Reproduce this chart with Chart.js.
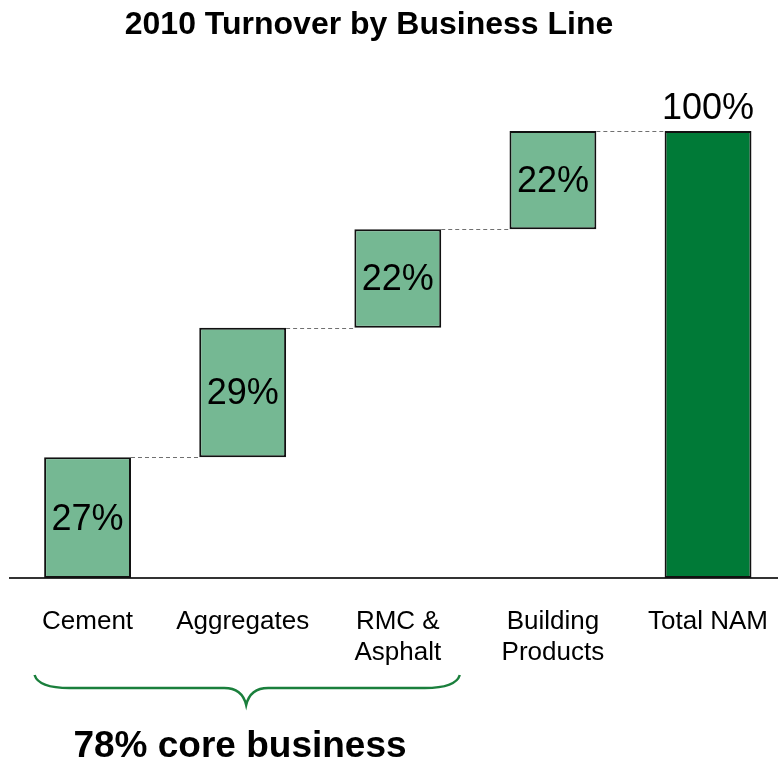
<!DOCTYPE html>
<html>
<head>
<meta charset="utf-8">
<script src="https://cdn.jsdelivr.net/npm/chart.js@4/dist/chart.umd.min.js"></script>
<style>
  html, body { margin: 0; padding: 0; background: #fff; overflow: hidden; }
  canvas { display: block; }
</style>
</head>
<body>
<canvas id="turnover" width="796" height="762"></canvas>
<script>
// 2010 turnover split, percent of total
const categories = ['Cement', 'Aggregates', ['RMC &', 'Asphalt'], ['Building', 'Products'], 'Total NAM'];
const shares = [27, 29, 22, 22];
const total = 100;
const coreShare = 78;

const FONT = '"Liberation Sans", Arial, sans-serif';
const lightGreen = '#75b893';
const darkGreen = '#007a37';

// waterfall: each step floats on the running sum, last bar is the total
const bars = [];
let running = 0;
shares.forEach(v => { bars.push([running, running + v]); running += v; });
bars.push([0, total]);
const labels = shares.concat([total]);

const extras = {
  id: 'extras',
  afterDatasetsDraw(chart) {
    const ctx = chart.ctx;
    const meta = chart.getDatasetMeta(0);
    const y = chart.scales.y;

    // dashed connectors between bar tops
    ctx.save();
    ctx.strokeStyle = '#707070';
    ctx.lineWidth = 1;
    ctx.setLineDash([4, 3]);
    for (let i = 0; i < meta.data.length - 1; i++) {
      const a = meta.data[i], b = meta.data[i + 1];
      const py = Math.round(y.getPixelForValue(bars[i][1])) + 0.5;
      ctx.beginPath();
      ctx.moveTo(a.x + a.width / 2, py);
      ctx.lineTo(b.x - b.width / 2, py);
      ctx.stroke();
    }
    ctx.restore();

    // value labels
    ctx.save();
    ctx.fillStyle = '#000';
    ctx.font = '36px ' + FONT;
    ctx.textAlign = 'center';
    meta.data.forEach((el, i) => {
      const top = y.getPixelForValue(bars[i][1]);
      const bot = y.getPixelForValue(bars[i][0]);
      if (i === meta.data.length - 1) {
        ctx.textBaseline = 'alphabetic';
        ctx.fillText(labels[i] + '%', el.x, top - 12);
      } else {
        ctx.textBaseline = 'middle';
        ctx.fillText(labels[i] + '%', el.x, (top + bot) / 2 + 2);
      }
    });
    ctx.restore();
  },
  afterDraw(chart) {
    const ctx = chart.ctx;
    ctx.save();
    // title
    ctx.fillStyle = '#000';
    ctx.font = 'bold 32px ' + FONT;
    ctx.textAlign = 'center';
    ctx.textBaseline = 'alphabetic';
    ctx.fillText('2010 Turnover by Business Line', 369, 34);

    // brace under the core business lines
    const meta = chart.getDatasetMeta(0);
    const x0 = meta.data[0].x - 53, x1 = meta.data[2].x + 62;
    const mid = (x0 + x1) / 2 - 1;
    const yt = 675, yh = 688, yp = 705;
    ctx.strokeStyle = '#1a7f3c';
    ctx.lineWidth = 2.5;
    ctx.beginPath();
    ctx.moveTo(x0, yt);
    ctx.quadraticCurveTo(x0 + 4, yh, x0 + 35, yh);
    ctx.lineTo(mid - 22, yh);
    ctx.quadraticCurveTo(mid - 4, yh, mid, yp);
    ctx.quadraticCurveTo(mid + 4, yh, mid + 22, yh);
    ctx.lineTo(x1 - 35, yh);
    ctx.quadraticCurveTo(x1 - 4, yh, x1, yt);
    ctx.stroke();

    ctx.fillStyle = '#000';
    ctx.font = 'bold 37px ' + FONT;
    ctx.fillText(coreShare + '% core business', 240, 757);
    ctx.restore();
  }
};

new Chart(document.getElementById('turnover'), {
  type: 'bar',
  data: {
    labels: categories,
    datasets: [{
      data: bars,
      backgroundColor: [lightGreen, lightGreen, lightGreen, lightGreen, darkGreen],
      borderColor: '#111',
      borderWidth: 2,
      borderSkipped: false,
      barPercentage: 0.56,
      categoryPercentage: 1
    }]
  },
  options: {
    responsive: false,
    animation: false,
    layout: { padding: { top: 131, left: 10, right: 0, bottom: 0 } },
    plugins: { legend: { display: false }, tooltip: { enabled: false } },
    scales: {
      x: {
        grid: { display: false, drawTicks: false },
        border: { display: true, color: '#333', width: 2 },
        ticks: {
          color: '#000',
          padding: 28,
          font: { family: FONT, size: 26, lineHeight: 1.2 }
        },
        afterFit(scale) { scale.height = 184; }
      },
      y: { display: false, min: 0, max: 100 }
    }
  },
  plugins: [extras]
});
</script>
</body>
</html>
